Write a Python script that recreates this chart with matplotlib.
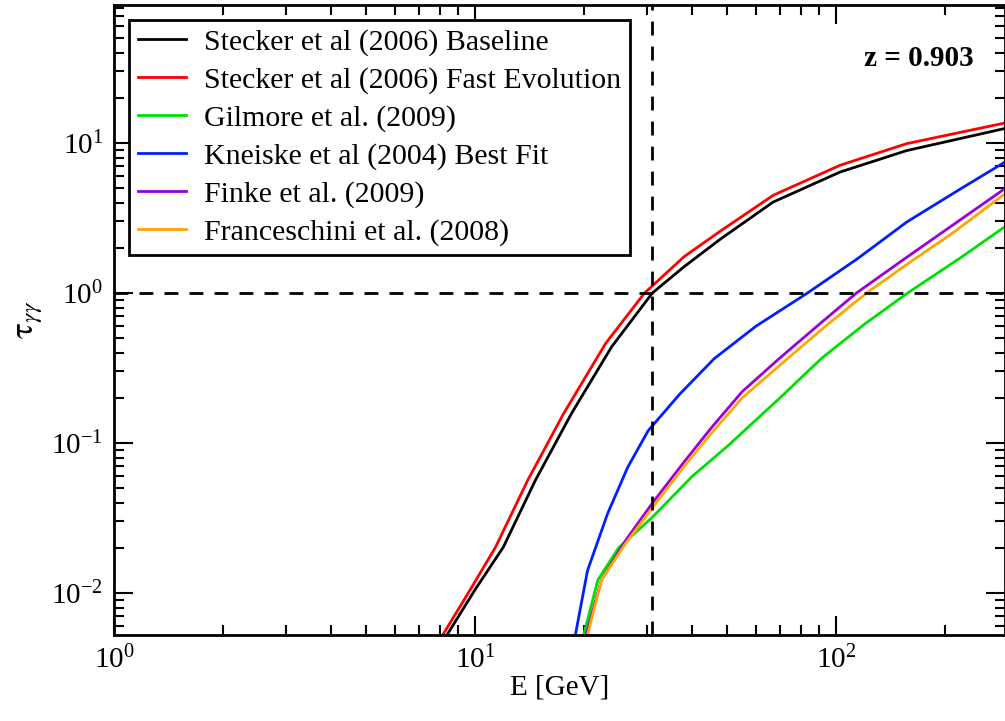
import matplotlib
matplotlib.use("Agg")
import matplotlib.pyplot as plt

plt.rcParams['font.family'] = ['Liberation Serif', 'DejaVu Serif']
plt.rcParams['mathtext.fontset'] = 'stix'

black_E = [8.26, 10, 11.98, 14.7, 18.5, 23.9, 31, 38, 48, 67, 102.6, 157, 294]
black_t = [0.005, 0.0105, 0.0202, 0.0564, 0.157, 0.437, 1.0, 1.5, 2.3, 4.04, 6.4, 8.9, 12.5]
red_E = [8.04, 9.7, 11.4, 14.0, 17.6, 23.0, 29.5, 38, 48, 67, 102.6, 157, 294]
red_t = [0.005, 0.0105, 0.0202, 0.0564, 0.157, 0.46, 1.0, 1.75, 2.6, 4.48, 7.1, 9.9, 13.6]
green_E = [19.9, 21.9, 25, 31, 40, 50, 70, 91, 120, 158, 220, 294]
green_t = [0.005, 0.0122, 0.02, 0.032, 0.06, 0.095, 0.2, 0.365, 0.62, 1.0, 1.7, 2.77]
blue_E = [18.9, 20.5, 23.3, 26.5, 30.2, 37, 46, 60, 83.4, 115, 157, 220, 294]
blue_t = [0.005, 0.0141, 0.0338, 0.069, 0.121, 0.213, 0.365, 0.6, 1.0, 1.7, 2.97, 4.9, 7.47]
purple_E = [20.2, 22.4, 26, 31, 38, 45, 55, 69.6, 90, 114, 150, 195, 294]
purple_t = [0.005, 0.0122, 0.022, 0.0397, 0.075, 0.125, 0.22, 0.365, 0.62, 1.0, 1.6, 2.49, 4.97]
orange_E = [20.4, 22.4, 26, 31, 38, 45, 55, 73.4, 95, 121.6, 160, 210, 294]
orange_t = [0.005, 0.0122, 0.021, 0.037, 0.07, 0.115, 0.2, 0.365, 0.62, 1.0, 1.6, 2.5, 4.59]

fig = plt.figure(figsize=(10.05, 7.21), dpi=100)
ax = fig.add_axes([114/1005, 1-635/721, (1005-114)/1005, 630/721])
series = [
    (black_E, black_t, 'black', 'Stecker et al (2006) Baseline'),
    (red_E, red_t, '#ff0000', 'Stecker et al (2006) Fast Evolution'),
    (green_E, green_t, '#00e000', 'Gilmore et al. (2009)'),
    (blue_E, blue_t, '#0020ff', 'Kneiske et al (2004) Best Fit'),
    (purple_E, purple_t, '#9900dd', 'Finke et al. (2009)'),
    (orange_E, orange_t, '#ffa500', 'Franceschini et al. (2008)'),
]
for E, t, c, lab in series:
    ax.plot(E, t, color=c, lw=2, label=lab)
ax.axvline(31, color='black', ls=(0, (5, 4)), lw=2)
ax.axhline(1, color='black', ls=(0, (5, 4)), lw=2)
ax.set_xscale('log'); ax.set_yscale('log')
ax.set_xlim(1, 294)
ax.set_ylim(10**-2.28, 10**1.92)
ax.tick_params(which='both', direction='in', top=True, right=True, labelsize=21)
ax.tick_params(which='major', length=14, width=1.5, pad=8)
ax.tick_params(which='minor', length=7, width=1.5)
for s in ax.spines.values():
    s.set_linewidth(2)
ax.set_xlabel('E [GeV]', fontsize=21, labelpad=0)
ax.set_ylabel(r'$\mathrm{\tau}_{\gamma\gamma}$', fontsize=24)
leg = ax.legend(loc='upper left', fontsize=21.5, frameon=True, fancybox=False,
                edgecolor='black', framealpha=1, borderaxespad=0.5, handlelength=1.6,
                handletextpad=0.6, labelspacing=0.36, borderpad=0.3)
leg.get_frame().set_linewidth(2)
ax.text(0.965, 0.915, 'z = 0.903', transform=ax.transAxes, ha='right', va='center',
        fontsize=21, fontweight='bold')
fig.savefig('out.png', dpi=100)
